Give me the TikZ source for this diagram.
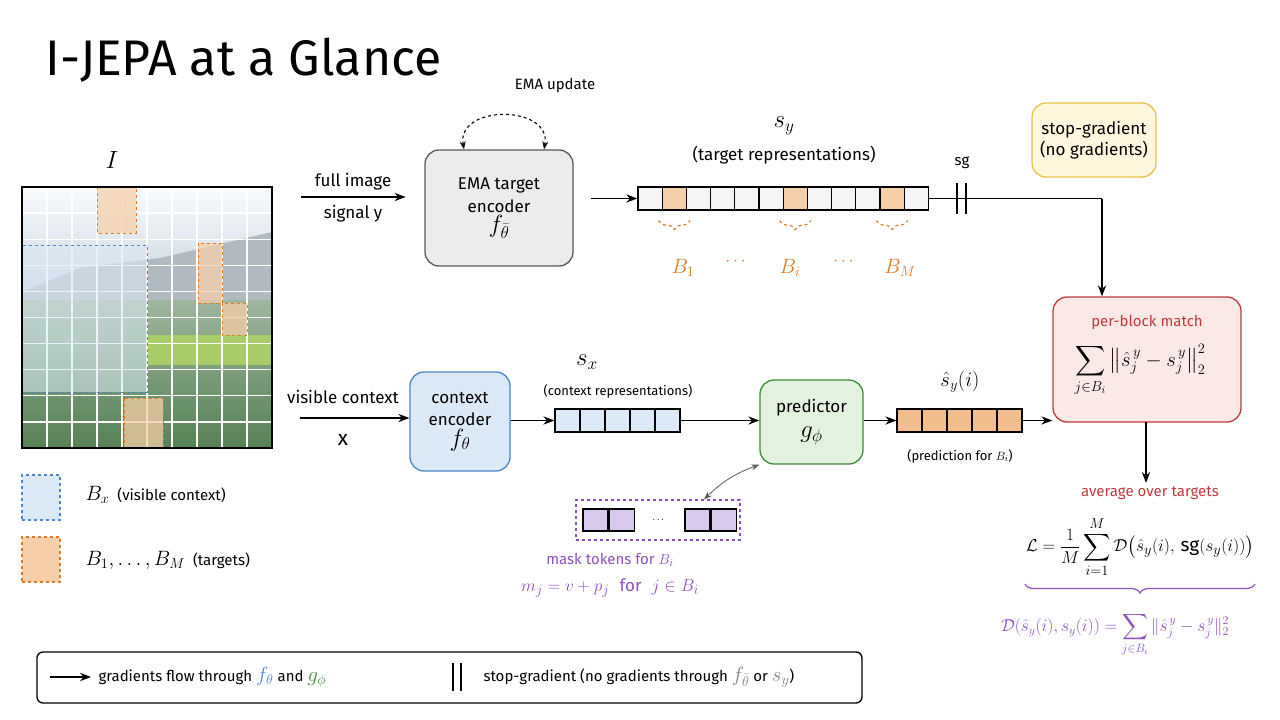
\documentclass[tikz,border=0pt]{standalone}
\usepackage{fontspec}
\usepackage{amsmath,amssymb}
\setmainfont{Fira Sans}
\usetikzlibrary{arrows.meta,positioning,decorations.pathreplacing,calc}

\definecolor{encblue}{HTML}{4A86C8}
\definecolor{lightblue}{HTML}{DCEAF7}
\definecolor{tgtorange}{HTML}{E07B24}
\definecolor{lightorange}{HTML}{F6CFA8}
\definecolor{predgreen}{HTML}{3C8C3A}
\definecolor{lightgreen}{HTML}{E3F2DF}
\definecolor{matchred}{HTML}{C0393B}
\definecolor{lightred}{HTML}{FBE9E8}
\definecolor{maskpurple}{HTML}{8E4FC0}
\definecolor{lightpurple}{HTML}{D9C8EE}
\definecolor{notegold}{HTML}{E9C44A}
\definecolor{lightgold}{HTML}{FFF7DD}

\newcommand\fsz[1]{\fontsize{#1}{1.2\dimexpr#1pt\relax}\selectfont}

\tikzset{
  flow/.style={-{Stealth[length=11pt]},line width=1.3pt},
  module/.style={draw,rounded corners=14pt,line width=1.3pt,align=center,font=\fsz{17},inner sep=4pt},
  cell/.style={draw,line width=1.2pt,minimum width=24pt,minimum height=23pt,inner sep=0pt},
  lbl/.style={font=\fsz{17},align=center},
  small lbl/.style={font=\fsz{15},align=center},
  big math/.style={font=\fsz{26}}
}

\begin{document}
\begin{tikzpicture}[x=1pt,y=-1pt]
\useasboundingbox (0,0) rectangle (1280,720);

% title
\node[anchor=west,font=\fsz{50}] (title) at (42,60) {I-JEPA at a Glance};

% input image
\node[font=\fsz{34}] (img lbl) at (112,160) {$I$};
\fill[top color=white!85!lightblue,bottom color=lightblue!80!gray] (22,187) rectangle (272,290);
\fill[gray!45!lightblue] (22,292) -- (80,268) -- (160,258) -- (272,232) -- (272,300) -- (22,300) -- cycle;
\fill[top color=gray!50!predgreen!60,bottom color=predgreen!70!black!80] (22,300) rectangle (272,448);
\fill[lightgreen!60!yellow!60!predgreen] (147,335) rectangle (272,365);
\foreach \i in {1,...,9} {
  \draw[white,line width=1.3pt] (22+25*\i,187) -- (22+25*\i,448);
  \draw[white,line width=1.3pt] (22,187+26.1*\i) -- (272,187+26.1*\i);
}
\fill[lightblue,opacity=.55] (22,245) rectangle (147,392);
\draw[encblue,thick,dashed] (22,245) rectangle (147,392);
\foreach \a/\b in {{(97,187)}/{(136,233)},{(198,243)}/{(222,303)},{(222,303)}/{(247,335)},{(124,398)}/{(163,448)}}
  \draw[tgtorange,thick,dashed,fill=lightorange,fill opacity=.75] \a rectangle \b;
\node[draw,very thick,minimum width=250pt,minimum height=261pt,inner sep=0pt] (image) at (147,317.5) {};

% top branch
\node[module,fill=gray!15,draw=gray!70!black,minimum width=148pt,minimum height=116pt] (target enc) at (499,208)
  {EMA target\\[2pt] encoder\\ {\fsz{26}$f_{\bar\theta}$}};
\draw[flow] (image.east |- 0,197) ++(28,0) coordinate (full start) -- ++(105,0) coordinate (full end);
\node[lbl,above=3pt of $(full start)!.5!(full end)$] (full lbl) {full image};
\node[lbl,below=5pt of $(full start)!.5!(full end)$] (sig lbl) {signal y};
\draw[dashed,line width=1.1pt,{Stealth[length=8pt]}-{Stealth[length=8pt]}] ([xshift=-35pt]target enc.north) .. controls +(-8,-45) and +(8,-45) .. ([xshift=45pt]target enc.north);
\node[small lbl] (ema lbl) at (555,85) {EMA update};

\foreach \k in {0,...,11} {
  \ifnum\k=1 \def\cf{lightorange}\else\ifnum\k=6 \def\cf{lightorange}\else\ifnum\k=10 \def\cf{lightorange}\else\def\cf{gray!8}\fi\fi\fi
  \node[cell,fill=\cf,minimum width=24.2pt] (t\k) at (650+24.2*\k,198.5) {};
}
\draw[flow] (target enc.east |- t0) ++(17,0) coordinate (tin) -- (t0.west);
\node[big math] (sy lbl) at (784,126) {$s_y$};
\node[lbl] (sy note) at (784,155) {(target representations)};
\foreach \k/\t/\x in {1/1/683,6/i/790,10/M/900} {
  \draw[tgtorange,line width=1.2pt,dashed,decorate,decoration={brace,mirror,amplitude=9pt}] ([xshift=-3pt,yshift=-10pt]t\k.south west) -- ([xshift=3pt,yshift=-10pt]t\k.south east);
  \node[tgtorange,font=\fsz{22}] (b\k) at (\x,268) {$B_{\t}$};
}
\node[tgtorange,font=\fsz{17}] (dots a) at (737,262) {$\cdots$};
\node[tgtorange,font=\fsz{17}] (dots b) at (845,262) {$\cdots$};

% stop gradient and matching
\node[module,draw=notegold,fill=lightgold,minimum width=124pt,minimum height=74pt] (note) at (1094,140) {stop-gradient\\(no gradients)};
\node[module,draw=matchred,fill=lightred,minimum width=188pt,minimum height=125pt] (match) at (1147,359.5) {};
\node[matchred,small lbl] (match ttl) at (1147,322) {per-block match};
\node[font=\fsz{21}] (match eq) at (1140,370) {$\displaystyle\sum_{j\in B_i}\big\|\hat s^{\,y}_j - s^{\,y}_j\big\|_2^2$};
\coordinate (sg turn) at (1102,198.5);
\draw[line width=1.3pt] (t11.east) -- (sg turn);
\draw[flow] (sg turn) -- (match.north -| sg turn);
\draw[line width=2pt] (957,183) -- (957,214) (966,183) -- (966,214);
\node[small lbl] (sg lbl) at (962,163) {sg};

\coordinate (avg top) at (1146,422);
\node[matchred,small lbl] (avg lbl) at (1150,493) {average over targets};
\draw[flow] (avg top) -- (avg lbl.north -| avg top);
\node[font=\fsz{19}] (loss) at (1140,547) {$\mathcal{L}=\dfrac{1}{M}\displaystyle\sum_{i=1}^{M}\mathcal{D}\big(\hat s_y(i),\,\mathrm{sg}(s_y(i))\big)$};
\draw[maskpurple,line width=1.2pt,decorate,decoration={brace,mirror,amplitude=9pt}] (1025,584) -- (1255,584);
\node[maskpurple,font=\fsz{18}] (dist) at (1115,635) {$\mathcal{D}(\hat s_y(i),s_y(i))=\displaystyle\sum_{j\in B_i}\|\hat s^{\,y}_j - s^{\,y}_j\|_2^2$};

% bottom branch
\node[module,draw=encblue,fill=lightblue,minimum width=100pt,minimum height=99pt] (ctx enc) at (460,421.5)
  {context\\[2pt]encoder\\{\fsz{26}$f_{\theta}$}};
\coordinate (vis start) at (300,418);
\draw[flow] (vis start) -- (ctx enc.west |- vis start);
\node[lbl] (vis lbl) at (343,397) {visible context};
\node[font=\fsz{21}] (x lbl) at (343,440) {x};

\foreach \k in {0,...,4}
  \node[cell,fill=lightblue,minimum width=25pt] (c\k) at (567.5+25*\k,420.5) {};
\draw[flow] (ctx enc.east |- c0) -- (c0.west);
\node[big math] (sx lbl) at (587,362) {$s_x$};
\node[font=\fsz{13}] (sx note) at (618,391) {(context representations)};

\node[module,draw=predgreen,fill=lightgreen,minimum width=103pt,minimum height=84pt] (pred) at (811.5,422)
  {predictor\\[4pt]{\fsz{26}$g_{\phi}$}};
\draw[flow] (c4.east) -- (pred.west |- c4);

\foreach \k in {0,...,4}
  \node[cell,fill=lightorange!80!tgtorange,minimum width=25pt] (p\k) at (909.5+25*\k,420.5) {};
\draw[flow] (pred.east |- p0) -- (p0.west);
\draw[flow] (p4.east) -- (match.west |- p4);
\node[font=\fsz{22}] (shat lbl) at (960,382) {$\hat s_y(i)$};
\node[font=\fsz{13}] (pred note) at (960,456) {(prediction for $B_i$)};

% mask tokens
\node[draw=maskpurple,line width=1.2pt,dashed,minimum width=164pt,minimum height=40pt] (mask box) at (658,520) {};
\node[cell,fill=lightpurple,minimum width=25pt,minimum height=22pt] (m0) at (595.5,520) {};
\node[cell,fill=lightpurple,minimum width=25pt,minimum height=22pt,right=0pt of m0] (m1) {};
\node (m dots) at (659,520) {$\cdots$};
\node[cell,fill=lightpurple,minimum width=25pt,minimum height=22pt] (m2) at (697.5,520) {};
\node[cell,fill=lightpurple,minimum width=25pt,minimum height=22pt,right=0pt of m2] (m3) {};
\draw[gray!70!black,thick,{Stealth[length=8pt]}-{Stealth[length=8pt]}] ([xshift=46pt]mask box.north) to[bend left=12] (pred.south west);
\node[maskpurple,small lbl] (mask lbl) at (610,560) {mask tokens for $B_i$};
\node[maskpurple,font=\fsz{19}] (mask eq) at (610,588) {$m_j=v+p_j$\ \ {\fsz{17}for}\ \ $j\in B_i$};

% legend
\node[draw=encblue,line width=1.2pt,dashed,fill=lightblue,minimum width=38pt,minimum height=45pt] (leg ctx) at (41,497.5) {};
\node[anchor=west,small lbl] (leg ctx lbl) at (82,495) {{\fsz{21}$B_x$}\ \ (visible context)};
\node[draw=tgtorange,line width=1.2pt,dashed,fill=lightorange,minimum width=38pt,minimum height=45pt] (leg tgt) at (41,559.5) {};
\node[anchor=west,small lbl] (leg tgt lbl) at (82,560) {{\fsz{21}$B_1,\dots,B_M$}\ \ (targets)};

% bottom key
\node[draw,line width=1.3pt,rounded corners=6pt,minimum width=825pt,minimum height=51pt] (key) at (449.5,677.5) {};
\coordinate (key a) at (50,677);
\coordinate (key b) at (91,677);
\draw[flow] (key a) -- (key b);
\node[anchor=west,small lbl] (key grad) at (95,677) {gradients flow through {\fsz{22}\color{encblue}$f_\theta$} and {\fsz{22}\color{predgreen}$g_\phi$}};
\draw[line width=1.6pt] (453,663) -- (453,691) (461,663) -- (461,691);
\node[anchor=west,small lbl] (key stop) at (480,677) {stop-gradient (no gradients through {\fsz{22}\color{gray}$f_{\bar\theta}$} or {\fsz{22}\color{gray}$s_y$})};
\end{tikzpicture}
\end{document}
